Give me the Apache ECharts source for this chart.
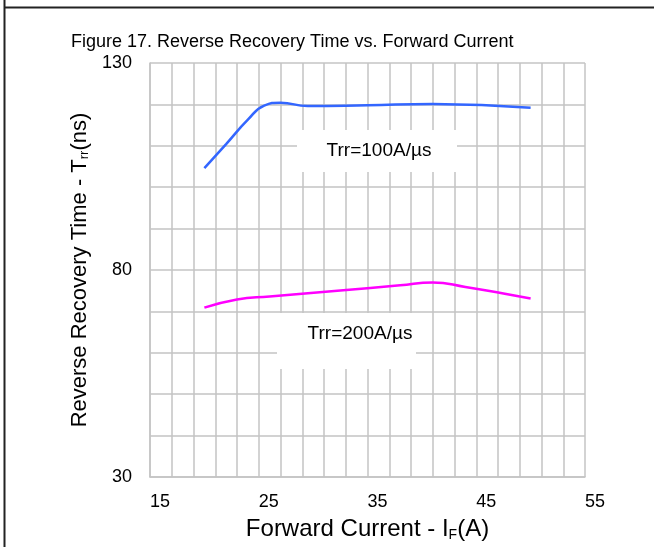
<!DOCTYPE html>
<html>
<head>
<meta charset="utf-8">
<script src="https://cdn.jsdelivr.net/npm/echarts@6/dist/echarts.min.js"></script>
<style>
html,body{margin:0;padding:0;background:#fff;}
#chart{width:654px;height:547px;}
</style>
</head>
<body>
<div id="chart"></div>
<script>
// ---- data ----
const titleText = 'Figure 17. Reverse Recovery Time vs. Forward Current';
const xAxisName = 'Forward Current - I{sub|F}(A)';
const yAxisName = 'Reverse Recovery Time - T{sub|rr}(ns)';
const seriesNames = ['Trr=100A/µs', 'Trr=200A/µs'];
const current100 = [20, 22, 24, 25.5, 27, 29.5, 35, 41, 50];
const trr100 = [104.6, 110.4, 116.3, 119.7, 120.4, 119.6, 119.8, 120.1, 119.2];
const current200 = [20, 23, 26, 32.5, 38, 41, 44, 47.5, 50];
const trr200 = [70.9, 72.9, 73.6, 75.05, 76.3, 77.0, 75.9, 74.3, 73.1];
const xTicks = [15, 25, 35, 45, 55];
const yTicks = [30, 80, 130];

const FONT = '"Liberation Sans", Arial, sans-serif';
const GRID = '#c4c4c4';

const chart = echarts.init(document.getElementById('chart'), null, {renderer: 'canvas'});

function pairs(xs, ys) { return xs.map((x, i) => [x, ys[i]]); }

const option = {
  backgroundColor: '#fff',
  animation: false,
  title: {
    text: titleText,
    left: 66, top: 28,
    textStyle: {fontFamily: FONT, fontSize: 18, fontWeight: 'normal', color: '#000'}
  },
  grid: {left: 150, right: 69, top: 63, bottom: 66, containLabel: false},
  xAxis: {
    type: 'value',
    min: xTicks[0], max: xTicks[xTicks.length - 1], interval: xTicks[1] - xTicks[0],
    name: xAxisName,
    nameLocation: 'middle', nameGap: 40,
    nameTextStyle: {
      fontFamily: FONT, fontSize: 24, color: '#000',
      rich: {sub: {fontFamily: FONT, fontSize: 14, color: '#000', padding: [11, 0, 0, 0]}}
    },
    axisLine: {show: true, lineStyle: {color: GRID, width: 1.5}},
    axisTick: {show: false},
    axisLabel: {fontFamily: FONT, fontSize: 18, color: '#000', margin: 16, align: 'left'},
    splitLine: {show: true, lineStyle: {color: GRID, width: 1.5}},
    minorTick: {show: false, splitNumber: 5},
    minorSplitLine: {show: true, lineStyle: {color: GRID, width: 1.5}}
  },
  yAxis: {
    type: 'value',
    min: yTicks[0], max: yTicks[yTicks.length - 1], interval: yTicks[1] - yTicks[0],
    name: yAxisName,
    nameLocation: 'middle', nameGap: 55,
    nameTextStyle: {
      fontFamily: FONT, fontSize: 22, color: '#000',
      rich: {sub: {fontFamily: FONT, fontSize: 13, color: '#000', padding: [10, 0, 0, 0]}}
    },
    axisLine: {show: true, lineStyle: {color: GRID, width: 1.5}},
    axisTick: {show: false},
    axisLabel: {fontFamily: FONT, fontSize: 18, color: '#000', margin: 18},
    splitLine: {show: true, lineStyle: {color: GRID, width: 1.5}},
    minorTick: {show: false, splitNumber: 5},
    minorSplitLine: {show: true, lineStyle: {color: GRID, width: 1.5}}
  },
  series: [
    {
      name: seriesNames[0], type: 'line', data: pairs(current100, trr100),
      smooth: 0.5, showSymbol: false, symbol: 'none',
      lineStyle: {color: '#3366ff', width: 2.5}, z: 5
    },
    {
      name: seriesNames[1], type: 'line', data: pairs(current200, trr200),
      smooth: 0.5, showSymbol: false, symbol: 'none',
      lineStyle: {color: '#ff00ff', width: 2.5}, z: 5
    }
  ],
  graphic: [
    {type: 'line', shape: {x1: 4.5, y1: 0, x2: 4.5, y2: 547}, style: {stroke: '#222', lineWidth: 2}, z: 100},
    {type: 'line', shape: {x1: 4.5, y1: 7.5, x2: 654, y2: 7.5}, style: {stroke: '#222', lineWidth: 2}, z: 100},
    {type: 'rect', shape: {x: 297, y: 130, width: 160, height: 42}, style: {fill: '#fff'}, z: 50},
    {type: 'text', x: 379, y: 151, style: {text: seriesNames[0], fontFamily: FONT, fontSize: 19, fill: '#000', align: 'center', verticalAlign: 'middle'}, z: 51},
    {type: 'rect', shape: {x: 277, y: 313, width: 139, height: 56}, style: {fill: '#fff'}, z: 50},
    {type: 'text', x: 360, y: 334, style: {text: seriesNames[1], fontFamily: FONT, fontSize: 19, fill: '#000', align: 'center', verticalAlign: 'middle'}, z: 51}
  ]
};
chart.setOption(option);
</script>
</body>
</html>
